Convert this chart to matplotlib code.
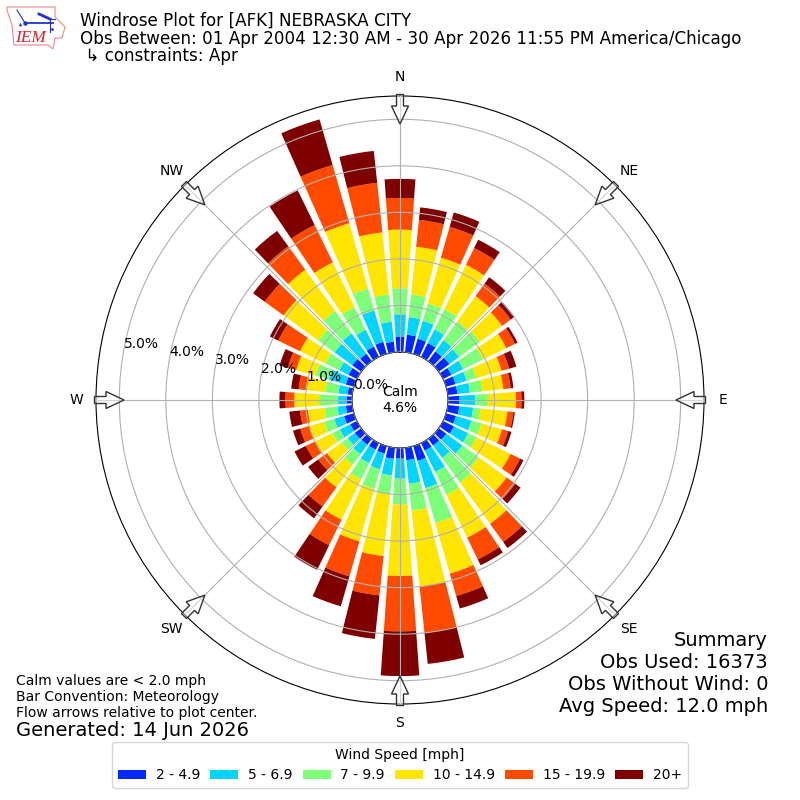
import numpy as np
import matplotlib
matplotlib.use("Agg")
import matplotlib.pyplot as plt
from matplotlib.patches import FancyArrow, Polygon

directions = list(range(0, 360, 10))
# cumulative frequency [%] at top of each speed bin, per direction
upto_5 = [.335,.38,.34,.33,.26,.28,.20,.21,.21,.25,.25,.22,.26,.20,.18,.18,.33,.27,
          .23,.24,.17,.16,.16,.17,.16,.22,.14,.12,.10,.18,.20,.24,.20,.25,.27,.23]
upto_7 = [.81,.76,.74,.66,.56,.54,.48,.46,.48,.59,.55,.57,.60,.63,.51,.69,.94,.78,
          .66,.60,.52,.48,.41,.36,.41,.44,.32,.30,.30,.56,.42,.71,.74,.65,.97,.66]
upto_10 = [1.37,1.25,1.13,1.14,1.06,1.09,.95,.68,.75,.86,.71,.79,.80,1.06,1.16,1.24,1.72,1.36,
           1.21,1.00,.96,.87,.69,.52,.59,.67,.60,.71,.58,.86,.76,1.14,1.34,1.19,1.46,1.25]
upto_15 = [2.63,2.28,2.15,2.20,1.73,1.68,1.51,1.24,1.20,1.46,1.29,1.25,1.61,1.80,2.26,2.26,2.85,3.00,
           2.75,2.34,2.13,1.83,1.29,.91,.99,1.00,.96,1.24,.98,1.29,1.36,2.06,2.43,2.26,2.92,2.59]
upto_20 = [3.31,2.86,2.84,2.60,2.06,1.91,1.72,1.41,1.36,1.58,1.42,1.39,1.84,2.03,2.74,2.78,3.35,4.00,
           3.94,3.19,2.91,2.44,1.80,1.14,1.22,1.20,1.13,1.43,1.16,1.48,1.88,2.56,3.05,3.15,4.22,3.66]
upto_max = [3.72,3.13,3.16,2.80,2.23,2.01,1.78,1.57,1.42,1.64,1.45,1.46,1.92,2.17,2.90,2.92,3.63,4.67,
            4.90,4.13,3.58,3.03,2.11,1.41,1.49,1.36,1.36,1.56,1.32,1.66,2.08,2.87,3.46,3.98,5.24,4.35]

speed_labels = ["2 - 4.9", "5 - 6.9", "7 - 9.9", "10 - 14.9", "15 - 19.9", "20+"]
speed_colors = ["#0028ff", "#00d4ff", "#7dff7a", "#ffe600", "#ff4a00", "#7f0000"]
compass_labels = ["N", "NE", "E", "SE", "S", "SW", "W", "NW"]
radial_ticks = [0, 1, 2, 3, 4, 5]
title_lines = ["Windrose Plot for [AFK] NEBRASKA CITY",
               "Obs Between: 01 Apr 2004 12:30 AM - 30 Apr 2026 11:55 PM America/Chicago",
               " \u21b3 constraints: Apr"]

fig = plt.figure(figsize=(8, 8), dpi=100)
ax = fig.add_axes([0.12, 0.12, 0.76, 0.76], projection="polar")
ax.set_theta_zero_location("N")
ax.set_theta_direction(-1)
ax.set_rorigin(-1.03)
ax.set_ylim(0, 5.5)
ax.set_axisbelow(False)

theta = np.deg2rad(directions)
width = np.deg2rad(8)
bottom = np.zeros(len(theta))
for top, color, label in zip([upto_5, upto_7, upto_10, upto_15, upto_20, upto_max],
                             speed_colors, speed_labels):
    top = np.array(top)
    ax.bar(theta, top - bottom, width=width, bottom=bottom, color=color,
           linewidth=0, label=label)
    bottom = top

ax.set_thetagrids(np.arange(0, 360, 45), compass_labels)
ax.set_rticks(radial_ticks)
ax.set_yticklabels([f"{v:.1f}%" for v in radial_ticks])
ax.set_rlabel_position(280)
ax.grid(True, color="#b0b0b0", linewidth=0.8)

ax.text(0.5, 0.5, "Calm\n4.6%", transform=ax.transAxes, ha="center", va="center",
        fontsize=10, zorder=10)

# flow arrows around the rim
R_TAIL, R_TIP = 305.5 / 800, 276 / 800
for deg in range(0, 360, 45):
    a = np.deg2rad(deg)
    ux, uy = np.sin(a), np.cos(a)
    fig.add_artist(FancyArrow(0.5 + R_TAIL * ux, 0.5 + R_TAIL * uy,
                              (R_TIP - R_TAIL) * ux, (R_TIP - R_TAIL) * uy,
                              width=7 / 800, head_width=17 / 800, head_length=18 / 800,
                              length_includes_head=True, facecolor=(1, 1, 1, 0.45),
                              edgecolor="#333333", linewidth=1.0,
                              transform=fig.transFigure))

for line, base_px in zip(title_lines, [26, 43.5, 61]):
    fig.text(0.1, 1 - base_px / 800, line, fontsize=12.05, va="baseline", ha="left")

fig.text(768 / 800, 1 - 716 / 800,
         "Summary\nObs Used: 16373\nObs Without Wind: 0\nAvg Speed: 12.0 mph",
         fontsize=14, ha="right", va="bottom")
fig.text(16 / 800, 1 - 720 / 800,
         "Calm values are < 2.0 mph\nBar Convention: Meteorology\nFlow arrows relative to plot center.",
         fontsize=10, ha="left", va="bottom")
fig.text(16 / 800, 1 - 740 / 800, "Generated: 14 Jun 2026", fontsize=14, ha="left", va="bottom")

handles, labels = ax.get_legend_handles_labels()
fig.legend(handles, labels, title="Wind Speed [mph]", ncol=6, loc="lower center",
           bbox_to_anchor=(0.5, 0.015), borderaxespad=0, fontsize=10,
           columnspacing=0.75, handletextpad=0.7)

# IEM logo sketch
logo = fig.add_axes([0, 1 - 55 / 800, 75 / 800, 55 / 800])
logo.set_xlim(0, 75)
logo.set_ylim(55, 0)
logo.axis("off")
outline_x = [7, 55, 55, 65, 62, 55, 53, 48, 14, 12, 7]
outline_y = [7, 7, 17, 27, 38, 38, 49, 45, 45, 25, 10]
logo.add_patch(Polygon(np.c_[outline_x, outline_y], closed=True, fill=False,
                       edgecolor="#ea8a8c", linewidth=0.8))
logo.plot([25, 53], [23, 23], color="#2030d0", lw=1.3)
logo.plot([17, 25], [10, 23], color="#2030d0", lw=0.8)
logo.plot([39, 50], [14, 19], color="#2030d0", lw=2.0)
logo.plot([50, 55], [19, 19], color="#2030d0", lw=0.8)
logo.plot([50, 50], [19, 32], color="#2030d0", lw=0.8)
logo.plot([25], [23], "o", color="#2030d0", ms=3.2, mew=0)
logo.plot([20], [23.5], "^", color="#2030d0", ms=2.5, mew=0)
logo.plot([52], [29], "o", color="#2030d0", ms=2, mew=0)
logo.text(30.5, 38.5, "IEM", family="Liberation Serif", style="italic", color="#d8232a",
          fontsize=12.5, ha="center", va="center")

fig.savefig("out.png", dpi=100)
